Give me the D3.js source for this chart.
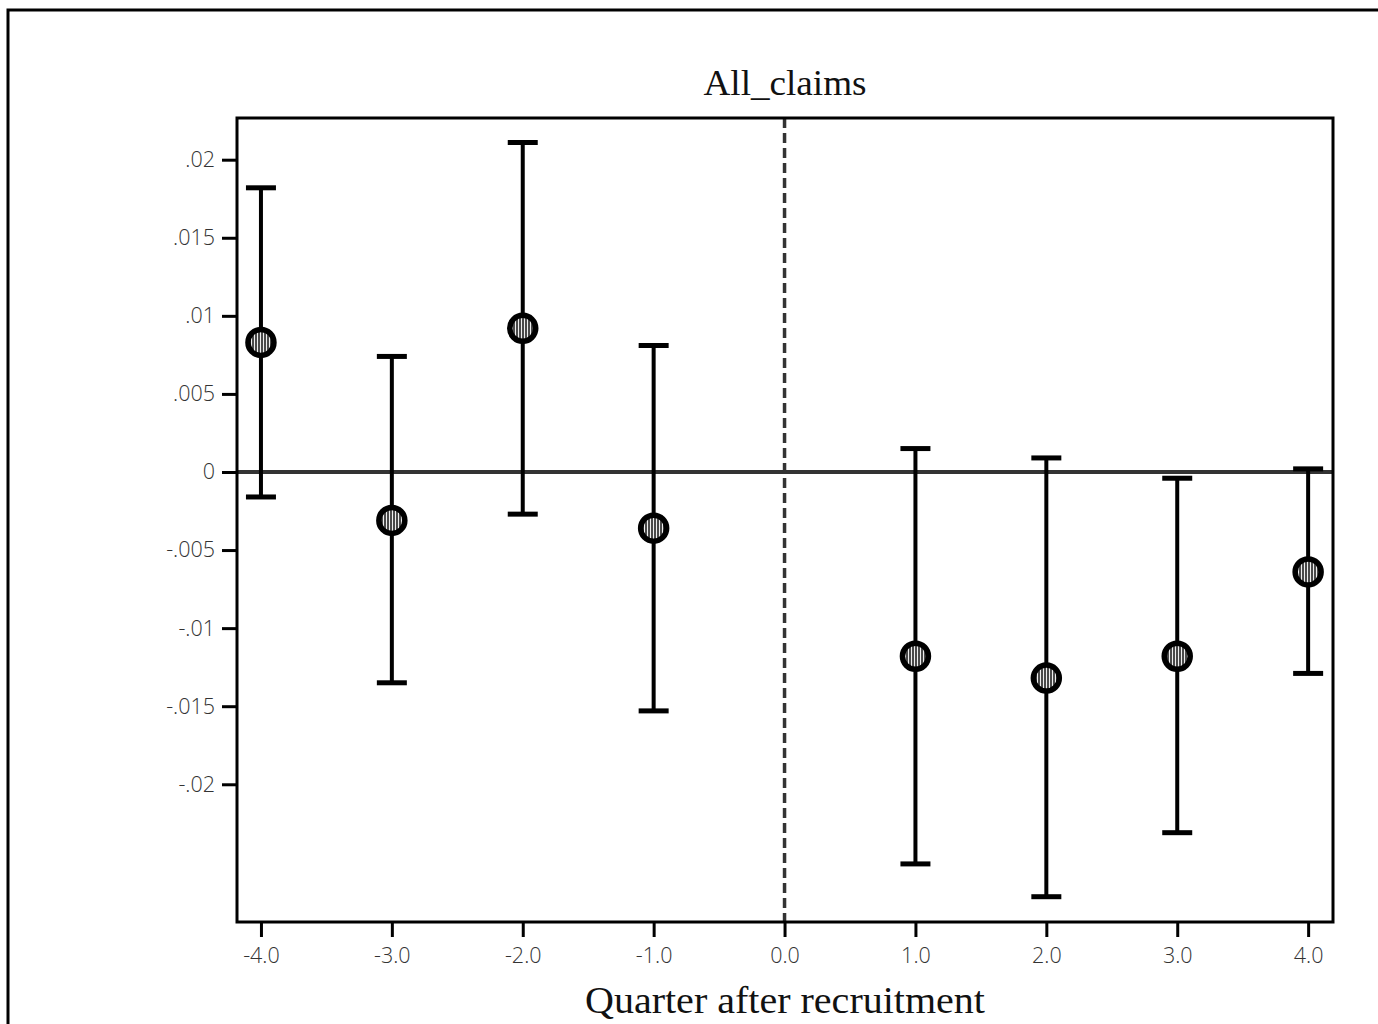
<!DOCTYPE html>
<html>
<head>
<meta charset="utf-8">
<script src="https://cdn.jsdelivr.net/npm/d3@7/dist/d3.min.js"></script>
<style>
  html, body { margin: 0; padding: 0; background: #fff; }
  svg { display: block; }
</style>
</head>
<body>
<svg id="chart" width="1378" height="1024"></svg>
<script>
// Event-study estimates: quarter relative to recruitment
const quarters = [-4, -3, -2, -1, 1, 2, 3, 4];
const estimates = [0.0083, -0.0031, 0.0092, -0.0036, -0.0118, -0.0132, -0.0118, -0.0064];
const upperCI = [0.0182, 0.0074, 0.0211, 0.0081, 0.0015, 0.0009, -0.0004, 0.0002];
const lowerCI = [-0.0016, -0.0135, -0.0027, -0.0153, -0.0251, -0.0272, -0.0231, -0.0129];
const xTicks = [-4, -3, -2, -1, 0, 1, 2, 3, 4];
const xTickLabels = ["-4.0", "-3.0", "-2.0", "-1.0", "0.0", "1.0", "2.0", "3.0", "4.0"];
const yTicks = [0.02, 0.015, 0.01, 0.005, 0, -0.005, -0.01, -0.015, -0.02];
const yTickLabels = [".02", ".015", ".01", ".005", "0", "-.005", "-.01", "-.015", "-.02"];

const svg = d3.select("#chart");
const plot = { left: 237, top: 118, right: 1333, bottom: 922 };

const x = d3.scaleLinear().domain([-4.183, 4.19]).range([plot.left, plot.right]);
const y = d3.scaleLinear().domain([-0.02882, 0.02267]).range([plot.bottom, plot.top]);

// outer frame
svg.append("rect")
  .attr("x", 8).attr("y", 10).attr("width", 1420).attr("height", 1100)
  .attr("fill", "none").attr("stroke", "#000").attr("stroke-width", 3);

// striped fill for markers
const defs = svg.append("defs");
const pat = defs.append("pattern")
  .attr("id", "stripes").attr("patternUnits", "userSpaceOnUse")
  .attr("width", 3).attr("height", 4);
pat.append("rect").attr("width", 3).attr("height", 4).attr("fill", "#eee");
pat.append("rect").attr("width", 2).attr("height", 4).attr("fill", "#4a4a4a");

// title
svg.append("text")
  .attr("x", 785).attr("y", 95)
  .attr("text-anchor", "middle")
  .attr("font-family", "Liberation Serif, serif")
  .attr("font-size", 36)
  .attr("textLength", 163).attr("lengthAdjust", "spacingAndGlyphs")
  .attr("fill", "#111")
  .text("All_claims");

// axes
const yAxis = d3.axisLeft(y).tickValues(yTicks)
  .tickFormat((d, i) => yTickLabels[i]).tickSize(15).tickPadding(7);
const xAxis = d3.axisBottom(x).tickValues(xTicks)
  .tickFormat((d, i) => xTickLabels[i]).tickSize(15).tickPadding(11);

const gy = svg.append("g").attr("transform", `translate(${plot.left},0)`).call(yAxis);
const gx = svg.append("g").attr("transform", `translate(0,${plot.bottom})`).call(xAxis);
[gx, gy].forEach(g => {
  g.select(".domain").remove();
  g.selectAll(".tick line").attr("stroke", "#000").attr("stroke-width", 3);
  g.selectAll(".tick text")
    .attr("font-family", "Open Sans, sans-serif")
    .attr("font-weight", 300)
    .attr("font-size", 21.5)
    .attr("fill", "#333");
});

// x axis title
svg.append("text")
  .attr("x", 785).attr("y", 1013)
  .attr("text-anchor", "middle")
  .attr("font-family", "Liberation Serif, serif")
  .attr("font-size", 37)
  .attr("textLength", 400).attr("lengthAdjust", "spacingAndGlyphs")
  .attr("fill", "#111")
  .text("Quarter after recruitment");

// zero reference line
svg.append("line")
  .attr("x1", plot.left).attr("x2", plot.right)
  .attr("y1", y(0)).attr("y2", y(0))
  .attr("stroke", "#333").attr("stroke-width", 4);

// recruitment quarter marker
svg.append("line")
  .attr("x1", x(0)).attr("x2", x(0))
  .attr("y1", plot.top).attr("y2", plot.bottom)
  .attr("stroke", "#333").attr("stroke-width", 3.5)
  .attr("stroke-dasharray", "10,5");

// plot frame
svg.append("rect")
  .attr("x", plot.left).attr("y", plot.top)
  .attr("width", plot.right - plot.left).attr("height", plot.bottom - plot.top)
  .attr("fill", "none").attr("stroke", "#000").attr("stroke-width", 3);

// confidence intervals
const data = quarters.map((q, i) => ({ q, est: estimates[i], hi: upperCI[i], lo: lowerCI[i] }));
const bars = svg.append("g");
bars.selectAll(".ci").data(data).join("line")
  .attr("x1", d => x(d.q)).attr("x2", d => x(d.q))
  .attr("y1", d => y(d.hi)).attr("y2", d => y(d.lo))
  .attr("stroke", "#000").attr("stroke-width", 4);
["hi", "lo"].forEach(k => {
  bars.selectAll(".cap-" + k).data(data).join("line")
    .attr("x1", d => x(d.q) - 15).attr("x2", d => x(d.q) + 15)
    .attr("y1", d => y(d[k])).attr("y2", d => y(d[k]))
    .attr("stroke", "#000").attr("stroke-width", 5);
});

// point estimates
svg.append("g").selectAll("circle").data(data).join("circle")
  .attr("cx", d => x(d.q)).attr("cy", d => y(d.est))
  .attr("r", 13)
  .attr("fill", "url(#stripes)")
  .attr("stroke", "#000").attr("stroke-width", 5.5);
</script>
</body>
</html>
